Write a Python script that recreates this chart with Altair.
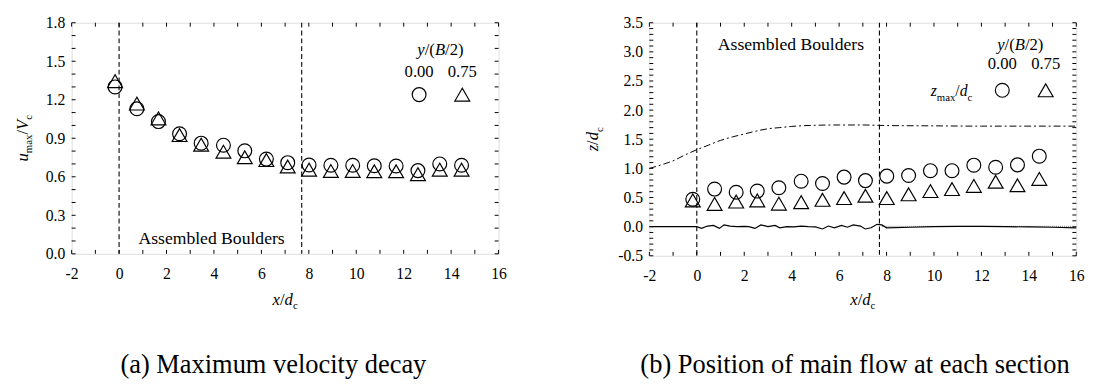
import altair as alt
import pandas as pd

FONT = "Liberation Serif"

# ---------------- data ----------------
x_sec = [-0.17, 0.75, 1.66, 2.55, 3.46, 4.40, 5.30, 6.21, 7.11, 8.01, 8.93, 9.85, 10.76, 11.68, 12.60, 13.52, 14.44]
# (a) u_max / V_c
u_c = [1.30, 1.13, 1.03, 0.935, 0.862, 0.846, 0.802, 0.738, 0.71, 0.692, 0.69, 0.69, 0.686, 0.684, 0.648, 0.70, 0.69]
u_t = [1.345, 1.17, 1.055, 0.925, 0.85, 0.795, 0.752, 0.73, 0.68, 0.655, 0.645, 0.645, 0.643, 0.643, 0.62, 0.655, 0.655]
# (b) z_max / d_c
z_c = [0.47, 0.645, 0.59, 0.61, 0.667, 0.78, 0.74, 0.85, 0.79, 0.867, 0.878, 0.96, 0.96, 1.055, 1.02, 1.06, 1.21]
z_t = [0.45, 0.39, 0.43, 0.45, 0.395, 0.42, 0.46, 0.49, 0.53, 0.49, 0.555, 0.61, 0.645, 0.70, 0.77, 0.71, 0.82]
# water surface (dash-dot)
surf_x = [-2, -1.5, -1, -0.5, 0, 0.5, 1, 1.5, 2, 2.5, 3, 3.5, 4, 5, 6, 7, 8, 10, 12, 14, 16]
surf_z = [1.0, 1.06, 1.13, 1.23, 1.32, 1.40, 1.48, 1.54, 1.59, 1.64, 1.68, 1.70, 1.72, 1.74, 1.745, 1.745, 1.735, 1.73, 1.725, 1.725, 1.725]
# bed profile (solid)
bed_x = [-2, 0, 0.2, 0.45, 0.7, 0.95, 1.15, 1.4, 1.7, 2.0, 2.2, 2.45, 2.7, 3.0, 3.3, 3.5, 3.8, 4.1, 4.4, 4.7,
         5.0, 5.3, 5.55, 5.8, 6.1, 6.35, 6.6, 6.9, 7.1, 7.35, 7.6, 7.8, 8.0, 9, 10, 11, 12, 13, 14, 15, 16]
bed_z = [0.0, 0.0, -0.03, 0.01, 0.02, -0.03, 0.03, 0.01, 0.0, 0.005, 0.0, -0.03, 0.03, 0.0, 0.02, -0.02, 0.0, -0.005, 0.01, 0.0,
         -0.005, -0.04, 0.01, -0.02, 0.02, -0.01, 0.03, 0.01, -0.04, -0.02, 0.04, 0.03, -0.02, -0.01, 0.0, 0.005, 0.005, 0.0, -0.005, -0.01, -0.02]
# original bed (dotted) downstream
bed0_x = [7.8, 16]
bed0_z = [0.005, 0.005]
boulder_x = [0, 7.7]

x_labels = [-2, 0, 2, 4, 6, 8, 10, 12, 14, 16]
ya_labels = [0.0, 0.3, 0.6, 0.9, 1.2, 1.5, 1.8]
yb_labels = [-0.5, 0.0, 0.5, 1.0, 1.5, 2.0, 2.5, 3.0, 3.5]
x_ticks = list(range(-2, 17))
ya_ticks = [round(i * 0.1, 1) for i in range(0, 19)]
yb_ticks = [round(-0.5 + i * 0.1, 1) for i in range(0, 41)]

legend_vals = ["0.00", "0.75"]
# legend anchor positions (data units)
la_head = (13.55, 1.546)
la_vals_x = [12.65, 14.47]
la_vals_y = 1.377
la_sym_y = 1.24
lb_head = (13.64, 3.04)
lb_vals_x = [12.88, 14.71]
lb_vals_y = 2.70
lb_sym_y = 2.34
lb_zlab = (10.74, 2.24)
ab_a = (3.90, 0.115)
ab_b = (3.97, 3.12)

W1, H1 = 436, 236
W2, H2 = 436, 238

ROM = {'/': 0.278, '(': 0.333, ')': 0.333, '2': 0.5, 'm': 0.778, 'a': 0.444, 'x': 0.5, 'c': 0.444, ' ': 0.25}
ITA = {'u': 0.5, 'x': 0.444, 'd': 0.5, 'V': 0.611, 'z': 0.389, 'y': 0.444, 'B': 0.611}


def rich(pieces, size):
    out, pos = [], 0.0
    for text, kind in pieces:
        if kind == 'sub':
            s, it, shift = round(size * 0.66), False, size * 0.28
        else:
            s, it, shift = size, kind == 'i', 0.0
        tbl = ITA if it else ROM
        w = sum(tbl.get(ch, 0.5) for ch in text) * s
        out.append((text, it, s, pos, shift))
        pos += w
    return out, pos


def rich_marks(pieces, size, xenc, yenc, angle=0, data=None):
    items, total = rich(pieces, size)
    layers = []
    base = alt.Chart(data if data is not None else pd.DataFrame({"k": [0]}))
    for text, it, s, pos, shift in items:
        kw = dict(text=text, font=FONT, fontSize=s, fontStyle="italic" if it else "normal",
                  align="left", baseline="alphabetic", color="black",
                  dx=pos - total / 2, dy=shift)
        if angle:
            kw["angle"] = angle
        layers.append(base.mark_text(**kw).encode(x=xenc, y=yenc))
    return layers


def panel(W, H, ydom, ylabels, yticks, xs_pts, yc, yt):
    xs = alt.Scale(domain=[-2, 16], nice=False, zero=False)
    ys = alt.Scale(domain=ydom, nice=False, zero=False)
    df = pd.DataFrame({"x": xs_pts, "c": yc, "t": yt})
    xaxis = alt.Axis(values=x_labels, format="d", domain=False, ticks=False, grid=False,
                     labelFont=FONT, labelFontSize=16, labelColor="black", labelPadding=12,
                     labelFlush=False, labelOverlap=False, title="")
    yaxis = alt.Axis(values=ylabels, format=".1f", domain=False, ticks=False, grid=False,
                     labelFont=FONT, labelFontSize=16, labelColor="black", labelPadding=7,
                     labelOverlap=False, title="")
    circ = alt.Chart(df).mark_point(shape="circle", filled=False, size=200, color="black",
                                    strokeWidth=1.2, opacity=1).encode(
        x=alt.X("x:Q", scale=xs, axis=xaxis), y=alt.Y("c:Q", scale=ys, axis=yaxis))
    tri = alt.Chart(df).mark_point(shape="triangle-up", filled=False, size=230, color="black",
                                   strokeWidth=1.2, opacity=1).encode(
        x=alt.X("x:Q", scale=xs, axis=None), y=alt.Y("t:Q", scale=ys, axis=None))
    vlines = alt.Chart(pd.DataFrame({"x": boulder_x})).mark_rule(
        color="black", strokeWidth=1.1, strokeDash=[5, 3]).encode(x=alt.X("x:Q", scale=xs, axis=None))
    dxt = pd.DataFrame({"v": x_ticks})
    dyt = pd.DataFrame({"v": yticks})
    tk = dict(color="black", strokeWidth=1)
    ticks = [
        alt.Chart(dxt).mark_rule(**tk).encode(x=alt.X("v:Q", scale=xs, axis=None), y=alt.value(H), y2=alt.value(H - 4)),
        alt.Chart(dxt).mark_rule(**tk).encode(x=alt.X("v:Q", scale=xs, axis=None), y=alt.value(0), y2=alt.value(4)),
        alt.Chart(dyt).mark_rule(**tk).encode(y=alt.Y("v:Q", scale=ys, axis=None), x=alt.value(0), x2=alt.value(4)),
        alt.Chart(dyt).mark_rule(**tk).encode(y=alt.Y("v:Q", scale=ys, axis=None), x=alt.value(W), x2=alt.value(W - 4)),
    ]
    return xs, ys, [circ, tri, vlines] + ticks


def dtext(text, pos, xs, ys, size=17, italic=False, baseline="alphabetic"):
    return alt.Chart(pd.DataFrame({"x": [pos[0]], "y": [pos[1]]})).mark_text(
        text=text, font=FONT, fontSize=size, fontStyle="italic" if italic else "normal",
        align="center", baseline=baseline, color="black").encode(
        x=alt.X("x:Q", scale=xs, axis=None), y=alt.Y("y:Q", scale=ys, axis=None))


def legend(xs, ys, head, vals_x, vals_y, sym_y):
    layers = []
    layers += rich_marks([("y", "i"), ("/(", "r"), ("B", "i"), ("/2)", "r")], 17,
                         alt.X("x:Q", scale=xs, axis=None), alt.Y("y:Q", scale=ys, axis=None),
                         data=pd.DataFrame({"x": [head[0]], "y": [head[1]]}))
    for v, xv in zip(legend_vals, vals_x):
        layers.append(dtext(v, (xv, vals_y), xs, ys))
    layers.append(alt.Chart(pd.DataFrame({"x": [vals_x[0]], "y": [sym_y]})).mark_point(
        shape="circle", filled=False, size=200, color="black", strokeWidth=1.2, opacity=1).encode(
        x=alt.X("x:Q", scale=xs, axis=None), y=alt.Y("y:Q", scale=ys, axis=None)))
    layers.append(alt.Chart(pd.DataFrame({"x": [vals_x[1]], "y": [sym_y]})).mark_point(
        shape="triangle-up", filled=False, size=230, color="black", strokeWidth=1.2, opacity=1).encode(
        x=alt.X("x:Q", scale=xs, axis=None), y=alt.Y("y:Q", scale=ys, axis=None)))
    return layers


# ---------------- panel (a) ----------------
xs1, ys1, L1 = panel(W1, H1, [0, 1.8], ya_labels, ya_ticks, x_sec, u_c, u_t)
L1.append(dtext("Assembled Boulders", ab_a, xs1, ys1, size=18, baseline="middle"))
L1 += legend(xs1, ys1, la_head, la_vals_x, la_vals_y, la_sym_y)
L1 += rich_marks([("x", "i"), ("/", "r"), ("d", "i"), ("c", "sub")], 17,
                 alt.value(W1 / 2), alt.value(H1 + 52))
L1 += rich_marks([("u", "i"), ("max", "sub"), ("/", "r"), ("V", "i"), ("c", "sub")], 17,
                 alt.value(-45), alt.value(H1 / 2), angle=270)
L1.append(alt.Chart(pd.DataFrame({"k": [0]})).mark_text(
    text="(a) Maximum velocity decay", font=FONT, fontSize=27, align="center",
    baseline="alphabetic", color="black").encode(x=alt.value(206), y=alt.value(H1 + 122)))
left = alt.layer(*L1).resolve_axis(x="independent", y="independent").properties(width=W1, height=H1)

# ---------------- panel (b) ----------------
xs2, ys2, L2 = panel(W2, H2, [-0.5, 3.5], yb_labels, yb_ticks, x_sec, z_c, z_t)
surf = alt.Chart(pd.DataFrame({"x": surf_x, "z": surf_z})).mark_line(
    color="black", strokeWidth=1, strokeDash=[7, 3, 2, 3], interpolate="monotone").encode(
    x=alt.X("x:Q", scale=xs2, axis=None), y=alt.Y("z:Q", scale=ys2, axis=None))
bed = alt.Chart(pd.DataFrame({"x": bed_x, "z": bed_z})).mark_line(
    color="black", strokeWidth=1.2).encode(
    x=alt.X("x:Q", scale=xs2, axis=None), y=alt.Y("z:Q", scale=ys2, axis=None))
bed0 = alt.Chart(pd.DataFrame({"x": bed0_x, "z": bed0_z})).mark_line(
    color="#777777", strokeWidth=1, strokeDash=[1, 1]).encode(
    x=alt.X("x:Q", scale=xs2, axis=None), y=alt.Y("z:Q", scale=ys2, axis=None))
L2 = L2 + [surf, bed0, bed]
L2.append(dtext("Assembled Boulders", ab_b, xs2, ys2, size=18, baseline="middle"))
L2 += legend(xs2, ys2, lb_head, lb_vals_x, lb_vals_y, lb_sym_y)
L2 += rich_marks([("z", "i"), ("max", "sub"), ("/", "r"), ("d", "i"), ("c", "sub")], 16,
                 alt.X("x:Q", scale=xs2, axis=None), alt.Y("y:Q", scale=ys2, axis=None),
                 data=pd.DataFrame({"x": [lb_zlab[0]], "y": [lb_zlab[1]]}))
L2 += rich_marks([("x", "i"), ("/", "r"), ("d", "i"), ("c", "sub")], 17,
                 alt.value(W2 / 2), alt.value(H2 + 50))
L2 += rich_marks([("z", "i"), ("/", "r"), ("d", "i"), ("c", "sub")], 17,
                 alt.value(-52), alt.value(H2 / 2), angle=270)
L2.append(alt.Chart(pd.DataFrame({"k": [0]})).mark_text(
    text="(b) Position of main flow at each section", font=FONT, fontSize=27, align="center",
    baseline="alphabetic", color="black").encode(x=alt.value(210), y=alt.value(H2 + 120)))
right = alt.layer(*L2).resolve_axis(x="independent", y="independent").properties(width=W2, height=H2)

chart = alt.hconcat(left, right, spacing=78).properties(
    padding={"left": 5, "top": 2, "right": 5, "bottom": 5}
).configure_view(stroke="black", strokeWidth=1.5).configure(background="white")

chart.save("out.html", embed_options={"renderer": "svg", "actions": False,
                                      "formatLocale": {"decimal": ".", "thousands": ",", "grouping": [3],
                                                       "currency": ["$", ""], "minus": "-"}})
